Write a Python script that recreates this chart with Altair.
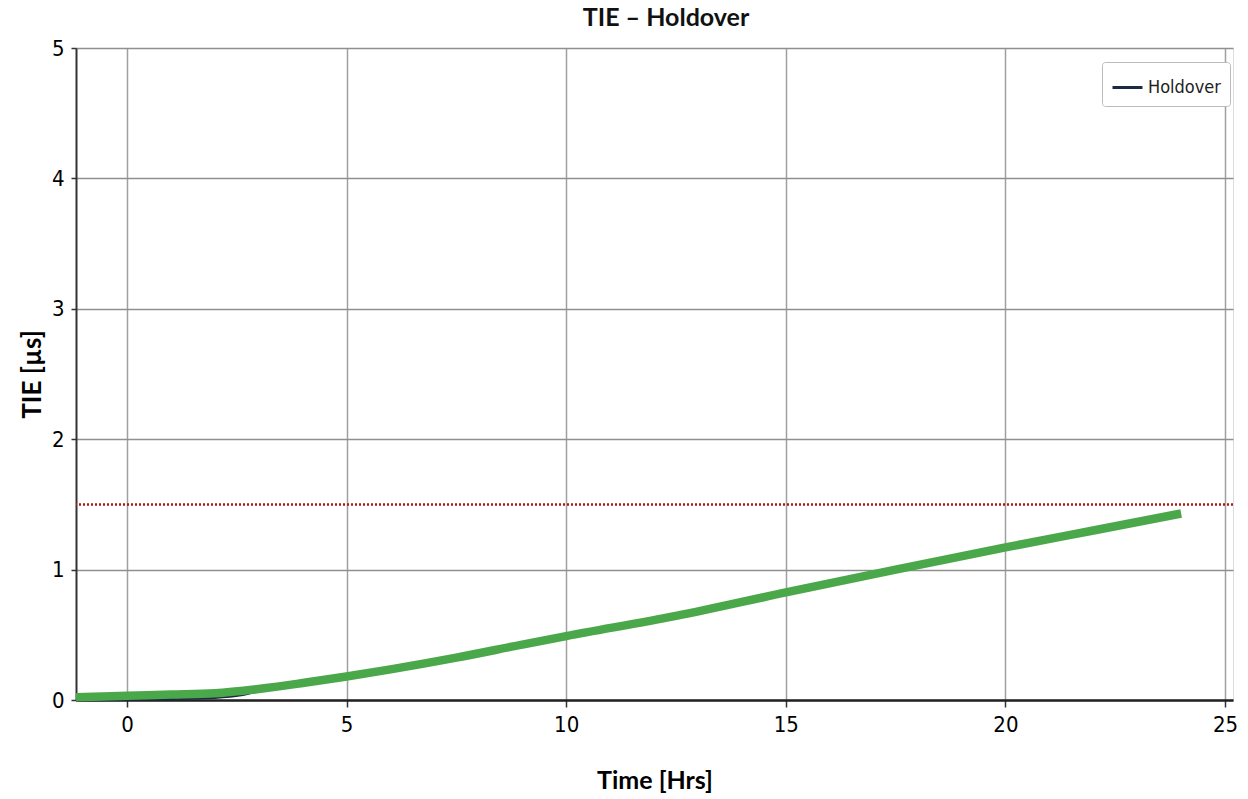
import altair as alt
import pandas as pd

# Data
hours = [-1.16, 0, 1, 2, 3, 4, 5, 6, 7.5, 9, 10, 12.5, 15, 17.5, 20, 22, 24]
tie_green = [0.022, 0.033, 0.042, 0.052, 0.085, 0.13, 0.18, 0.235, 0.325, 0.425, 0.49, 0.645, 0.825, 1.0, 1.17, 1.3, 1.43]
hold_hours = [-1.16, 0, 1, 2, 2.6, 3]
hold_tie = [0.0, 0.004, 0.01, 0.02, 0.04, 0.07]
limit_value = 1.5
x_ticks = [0, 5, 10, 15, 20, 25]
y_ticks = [0, 1, 2, 3, 4, 5]
chart_title = "TIE – Holdover"

LABEL_FONT = "'Liberation Sans Narrow', 'DejaVu Sans Condensed', Roboto, sans-serif"
BOLD_FONT = "Lato"

green_df = pd.DataFrame({"hours": hours, "tie": tie_green})
hold_df = pd.DataFrame({"hours": hold_hours, "tie": hold_tie, "series": ["Holdover"] * len(hold_hours)})
limit_df = pd.DataFrame({"limit": [limit_value]})
title_df = pd.DataFrame({"t": [chart_title]})

xscale = alt.Scale(domain=[-1.16, 25.18], nice=False, zero=False)
yscale = alt.Scale(domain=[0, 5], nice=False)

xaxis = alt.Axis(values=x_ticks, title="Time [Hrs]", titleFont=BOLD_FONT, titleFontSize=25,
                 titleFontWeight="bold", titleY=80, titleBaseline="middle",
                 labelFont=LABEL_FONT, labelFontSize=22, tickSize=7, labelPadding=7,
                 grid=True, gridColor="#a0a0a0", gridWidth=1.5,
                 domainColor="#222", domainWidth=2.5, tickColor="#333", tickWidth=1.5)
yaxis = alt.Axis(values=y_ticks, title="TIE [µs]", titleFont=BOLD_FONT, titleFontSize=26,
                 titleFontWeight="bold", titleX=-44, titleY=326, titleAngle=-90,
                 titleAlign="center", titleBaseline="middle",
                 labelFont=LABEL_FONT, labelFontSize=22, tickSize=5, labelPadding=7,
                 grid=True, gridColor="#909090", gridWidth=1.5,
                 domainColor="#333", domainWidth=2, tickColor="#333", tickWidth=1.5)

limit = alt.Chart(limit_df).mark_rule(color="#b01818", strokeWidth=2.5, strokeDash=[2, 2]).encode(
    y=alt.Y("limit:Q", scale=yscale, axis=yaxis)
)

hold = alt.Chart(hold_df).mark_line(strokeWidth=3, interpolate="monotone").encode(
    x=alt.X("hours:Q", scale=xscale, axis=xaxis),
    y=alt.Y("tie:Q", scale=yscale, axis=yaxis),
    color=alt.Color("series:N", scale=alt.Scale(domain=["Holdover"], range=["#1c2a44"]),
                    legend=alt.Legend(title=None, orient="none", legendX=1026, legendY=14,
                                      symbolType="stroke", symbolStrokeWidth=3, symbolSize=900,
                                      labelFont=LABEL_FONT, labelFontSize=18, labelColor="#222",
                                      padding=9, strokeColor="#bbb", cornerRadius=3,
                                      fillColor="white"))
)

green = alt.Chart(green_df).mark_line(color="#4aa84a", strokeWidth=8.5, interpolate="monotone",
                                      strokeCap="butt").encode(
    x=alt.X("hours:Q", scale=xscale, axis=xaxis),
    y=alt.Y("tie:Q", scale=yscale, axis=yaxis),
)

title = alt.Chart(title_df).mark_text(font=BOLD_FONT, fontSize=25, fontWeight="bold",
                                      color="#111", align="center", baseline="middle").encode(
    text="t:N", x=alt.value(590), y=alt.value(-30)
)

chart = alt.layer(limit, hold, green, title).properties(
    width=1157, height=652,
    autosize=alt.AutoSizeParams(type="none"),
    padding={"left": 68, "top": 40, "right": 7, "bottom": 97},
).configure_view(stroke="#333", strokeWidth=2).configure(background="white")

chart.save("out.html", embed_options={"renderer": "svg", "actions": False})
